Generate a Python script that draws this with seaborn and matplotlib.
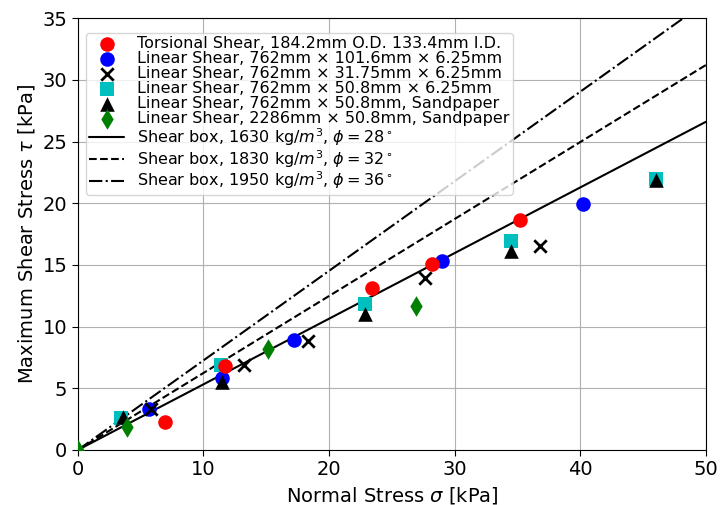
import matplotlib
matplotlib.use("Agg")
import matplotlib.pyplot as plt
import seaborn as sns

# --------------------------
# Data
# --------------------------
torsional_x = [6.9, 11.7, 23.4, 28.2, 35.2]
torsional_y = [2.3, 6.8, 13.1, 15.1, 18.6]

lin101_x = [5.7, 11.5, 17.2, 29.0, 40.2]
lin101_y = [3.3, 5.8, 8.9, 15.3, 19.9]

lin31_x = [5.8, 13.2, 18.3, 27.6, 36.8]
lin31_y = [3.3, 6.9, 8.8, 13.9, 16.5]

lin50_x = [3.4, 11.4, 22.9, 34.5, 46.0]
lin50_y = [2.6, 6.9, 11.8, 16.9, 22.0]

lin50sp_x = [3.6, 11.5, 22.9, 34.5, 46.0]
lin50sp_y = [2.7, 5.5, 11.0, 16.1, 21.9]

lin2286_x = [0.0, 3.9, 15.1, 26.9]
lin2286_y = [0.0, 1.9, 8.2, 11.7]

# shear box fits: straight lines through origin
box_x = [0, 50]
box28_y = [0, 26.6]
box32_y = [0, 31.2]
box36_y = [0, 36.3]

# --------------------------
# Plot
# --------------------------
sns.set_style("ticks")
plt.rcParams['font.family'] = ['DejaVu Sans']
plt.rcParams['mathtext.fontset'] = 'dejavusans'
for k in ['text.color', 'axes.labelcolor', 'xtick.color', 'ytick.color']:
    plt.rcParams[k] = 'black'

fig, ax = plt.subplots(figsize=(7.21, 5.05), dpi=100)
fig.subplots_adjust(left=0.108, right=0.979, top=0.964, bottom=0.109)

ms = 110
sns.scatterplot(x=torsional_x, y=torsional_y, color="red", marker="o", s=ms, linewidth=0,
                label="Torsional Shear, 184.2mm O.D. 133.4mm I.D.", ax=ax, zorder=4)
sns.scatterplot(x=lin101_x, y=lin101_y, color="blue", marker="o", s=ms, linewidth=0,
                label="Linear Shear, 762mm × 101.6mm × 6.25mm", ax=ax, zorder=3)
sns.scatterplot(x=lin31_x, y=lin31_y, color="black", marker="x", s=80, linewidth=2,
                label="Linear Shear, 762mm × 31.75mm × 6.25mm", ax=ax, zorder=3)
sns.scatterplot(x=lin50_x, y=lin50_y, color="c", marker="s", s=ms, linewidth=0,
                label="Linear Shear, 762mm × 50.8mm × 6.25mm", ax=ax, zorder=3)
sns.scatterplot(x=lin50sp_x, y=lin50sp_y, color="black", marker="^", s=ms, linewidth=0,
                label="Linear Shear, 762mm × 50.8mm, Sandpaper", ax=ax, zorder=3)
sns.scatterplot(x=lin2286_x, y=lin2286_y, color="green", marker="d", s=ms, linewidth=0,
                label="Linear Shear, 2286mm × 50.8mm, Sandpaper", ax=ax, zorder=3)

sns.lineplot(x=box_x, y=box28_y, color="black", linestyle="-", linewidth=1.5,
             label=r"Shear box, 1630 kg/$m^3$, $\phi=28^\circ$", ax=ax, zorder=2)
sns.lineplot(x=box_x, y=box32_y, color="black", linestyle="--", linewidth=1.5,
             label=r"Shear box, 1830 kg/$m^3$, $\phi=32^\circ$", ax=ax, zorder=2)
sns.lineplot(x=box_x, y=box36_y, color="black", linestyle="-.", linewidth=1.5,
             label=r"Shear box, 1950 kg/$m^3$, $\phi=36^\circ$", ax=ax, zorder=2)

ax.set_xlim(0, 50)
ax.set_ylim(0, 35)
ax.set_xticks(range(0, 51, 10))
ax.set_yticks(range(0, 36, 5))
ax.grid(True, color="#b0b0b0", linewidth=0.8)
for s in ax.spines.values():
    s.set_visible(True)
    s.set_color("black")
ax.tick_params(labelsize=14, direction="out", length=4, colors="black")
ax.set_xlabel(r"Normal Stress $\sigma$ [kPa]", fontsize=14)
ax.set_ylabel(r"Maximum Shear Stress $\tau$ [kPa]", fontsize=14)

ax.legend(loc="upper left", fontsize=11.5, handlelength=2.2, labelspacing=0.0,
          borderpad=0.2, handletextpad=0.8, framealpha=0.8,
          bbox_to_anchor=(0.0, 0.984))

plt.savefig("out.png", dpi=100)
